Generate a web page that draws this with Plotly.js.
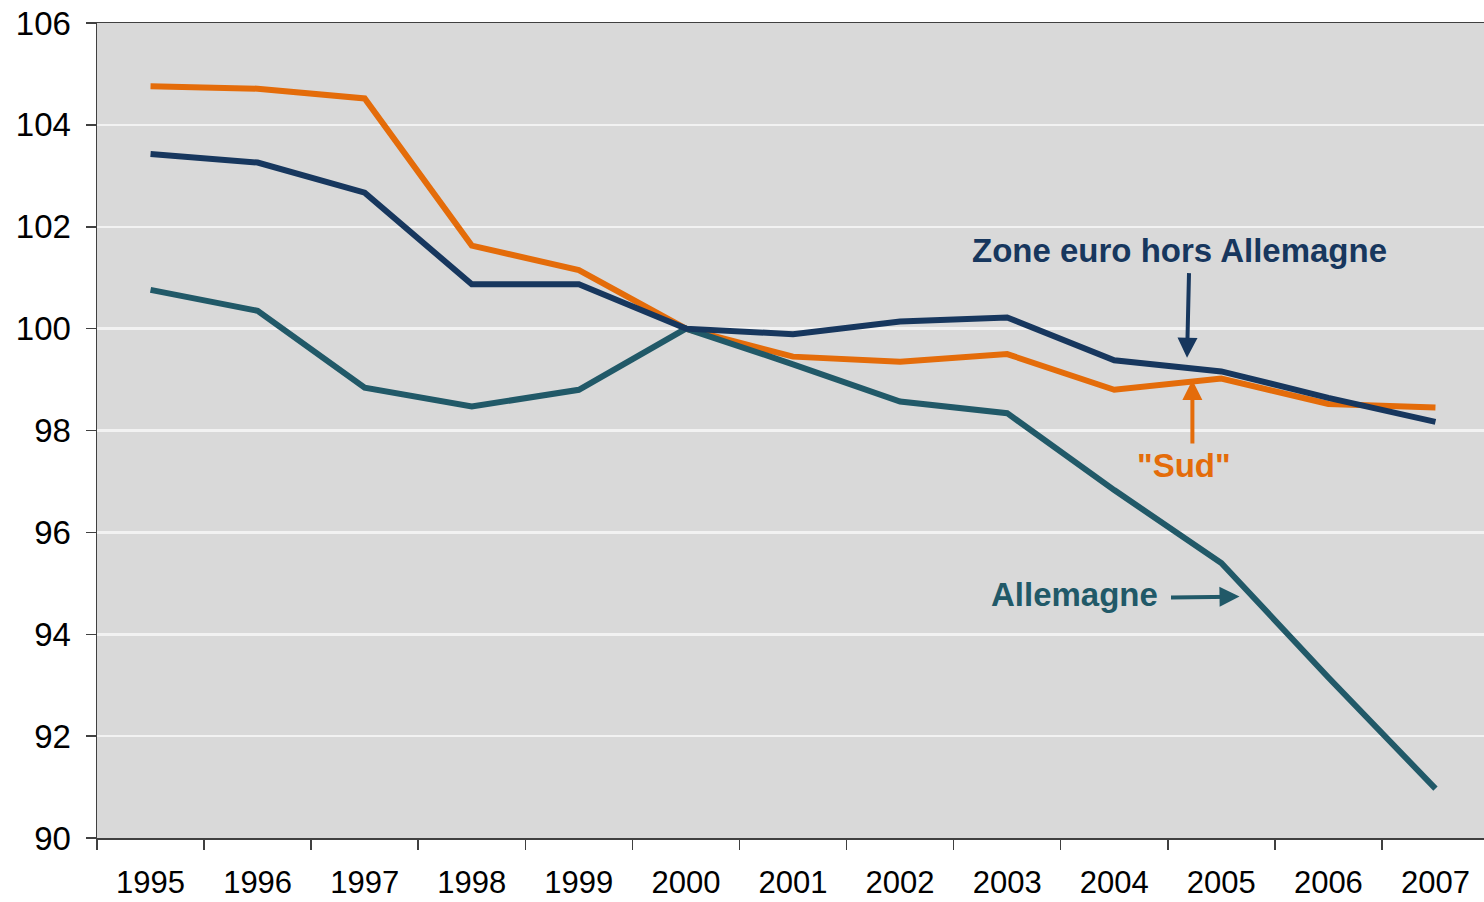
<!DOCTYPE html>
<html>
<head>
<meta charset="utf-8">
<script src="https://cdn.plot.ly/plotly-3.0.1.min.js"></script>
<style>html,body{margin:0;padding:0;overflow:hidden;background:#fff;}#chart{width:1489px;height:902px;}</style>
</head>
<body>
<div id="chart"></div>
<script>
const years = ["1995","1996","1997","1998","1999","2000","2001","2002","2003","2004","2005","2006","2007"];
const sud = [104.76,104.71,104.52,101.63,101.15,100.0,99.45,99.35,99.50,98.80,99.02,98.52,98.45];
const zoneEuroHorsAllemagne = [103.43,103.26,102.67,100.87,100.87,100.0,99.89,100.14,100.22,99.38,99.16,98.64,98.17];
const allemagne = [100.76,100.35,98.84,98.47,98.80,100.0,99.30,98.57,98.34,96.83,95.40,93.15,90.97];
const yTicks = [90,92,94,96,98,100,102,104,106];

const cOrange = "#E46C0A", cNavy = "#17375E", cTeal = "#215968";
const lineStyle = c => ({color: c, width: 6});

const traces = [
  {x: years, y: sud, type: "scatter", mode: "lines", line: lineStyle(cOrange), name: '"Sud"'},
  {x: years, y: allemagne, type: "scatter", mode: "lines", line: lineStyle(cTeal), name: "Allemagne"},
  {x: years, y: zoneEuroHorsAllemagne, type: "scatter", mode: "lines", line: lineStyle(cNavy), name: "Zone euro hors Allemagne"}
];

const font = "Liberation Sans, Arial, sans-serif";
const layout = {
  width: 1489, height: 902,
  margin: {l: 97, r: 0, t: 23, b: 64},
  paper_bgcolor: "#ffffff",
  plot_bgcolor: "#D9D9D9",
  showlegend: false,
  xaxis: {
    type: "category",
    range: [-0.5, 12.5],
    showgrid: false,
    zeroline: false,
    showline: true, linecolor: "#404040", linewidth: 1.5, mirror: true,
    ticks: "outside", tickson: "boundaries", ticklen: 10, tickcolor: "#404040", tickwidth: 1.5,
    tickfont: {family: font, size: 31, color: "#000"},
    ticklabelstandoff: 16
  },
  yaxis: {
    range: [90, 106],
    tickvals: yTicks,
    ticktext: yTicks.map(String),
    showgrid: true, gridcolor: "#F2F2F2", gridwidth: 2.5,
    zeroline: false,
    showline: true, linecolor: "#404040", linewidth: 1.5,
    ticks: "outside", ticklen: 10, tickcolor: "#404040", tickwidth: 1.5,
    tickfont: {family: font, size: 33, color: "#000"},
    ticklabelstandoff: 8
  },
  annotations: [
    {xref: "x", yref: "y", x: 9.61, y: 101.54, text: "<b>Zone euro hors Allemagne</b>", showarrow: false,
     font: {family: font, size: 33, color: cNavy}},
    {xref: "x", yref: "y", x: 9.68, y: 99.43, text: "", showarrow: true, ax: 2, ay: -86,
     arrowhead: 2, arrowsize: 1, arrowwidth: 4, arrowcolor: cNavy},
    {xref: "x", yref: "y", x: 9.65, y: 97.31, text: '<b>"Sud"</b>', showarrow: false,
     font: {family: font, size: 33, color: cOrange}},
    {xref: "x", yref: "y", x: 9.73, y: 98.99, text: "", showarrow: true, ax: 0, ay: 65,
     arrowhead: 2, arrowsize: 1, arrowwidth: 4, arrowcolor: cOrange},
    {xref: "x", yref: "y", x: 8.63, y: 94.78, text: "<b>Allemagne</b>", showarrow: false,
     font: {family: font, size: 33, color: cTeal}},
    {xref: "x", yref: "y", x: 10.17, y: 94.74, text: "", showarrow: true, ax: -70, ay: 1,
     arrowhead: 2, arrowsize: 1, arrowwidth: 4, arrowcolor: cTeal}
  ]
};

Plotly.newPlot("chart", traces, layout, {staticPlot: true, displayModeBar: false});
</script>
</body>
</html>
